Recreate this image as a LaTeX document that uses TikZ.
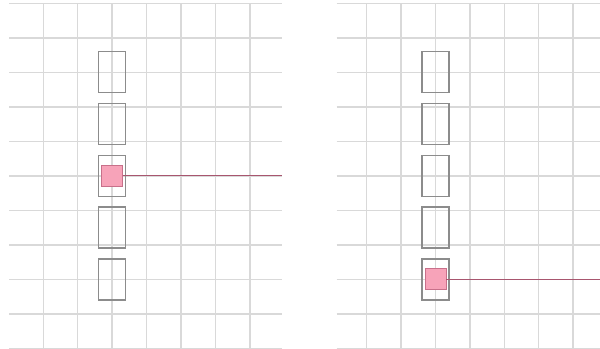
\documentclass[tikz,border=0pt]{standalone}
\definecolor{gridc}{HTML}{D9D9D9}
\definecolor{boxc}{HTML}{8C8C8C}
\definecolor{pinkfill}{HTML}{F7A3B9}
\definecolor{pinkdraw}{HTML}{C8708A}
\definecolor{linkc}{HTML}{A8566F}
\begin{document}
\begin{tikzpicture}[x=0.75pt,y=-0.75pt,
  gridline/.style={draw=gridc,line width=1.1pt},
  slot/.style={draw=boxc,line width=1.1pt,minimum width=20.25pt,minimum height=30.75pt,inner sep=0pt,outer sep=0pt},
  marker/.style={draw=pinkdraw,fill=pinkfill,line width=0.8pt,minimum width=15.75pt,minimum height=15.75pt,inner sep=0pt,outer sep=0pt},
  link/.style={draw=linkc,line width=0.8pt}]
\useasboundingbox (0,0) rectangle (600,349);
% left grid
\foreach \k in {0,...,10} \draw[gridline] (9.3,3.4+34.5*\k) -- (281.7,3.4+34.5*\k);
\foreach \k in {0,...,6} \draw[gridline] (43.3+34.45*\k,3.4) -- (43.3+34.45*\k,348.4);
% right grid
\foreach \k in {0,...,10} \draw[gridline] (336.7,3.4+34.5*\k) -- (600,3.4+34.5*\k);
\foreach \k in {0,...,6} \draw[gridline] (366.7+34.4*\k,3.4) -- (366.7+34.4*\k,348.4);
% left slots
\node[slot] (l1) at (112.2,72.2) {};
\node[slot] (l2) at (112.2,124.0) {};
\node[slot] (l3) at (112.2,175.8) {};
\node[slot] (l4) at (112.2,227.6) {};
\node[slot] (l5) at (112.2,279.4) {};
\node[marker] (lm) at (112.2,175.8) {};
\coordinate (lend) at (281.7,175.8);
\draw[link] (lm.east) -- (lend);
% right slots
\node[slot] (r1) at (435.6,72.2) {};
\node[slot] (r2) at (435.6,124.0) {};
\node[slot] (r3) at (435.6,175.8) {};
\node[slot] (r4) at (435.6,227.6) {};
\node[slot] (r5) at (435.6,279.4) {};
\node[marker] (rm) at (435.6,279.4) {};
\coordinate (rend) at (600,279.4);
\draw[link] (rm.east) -- (rend);
\end{tikzpicture}
\end{document}
